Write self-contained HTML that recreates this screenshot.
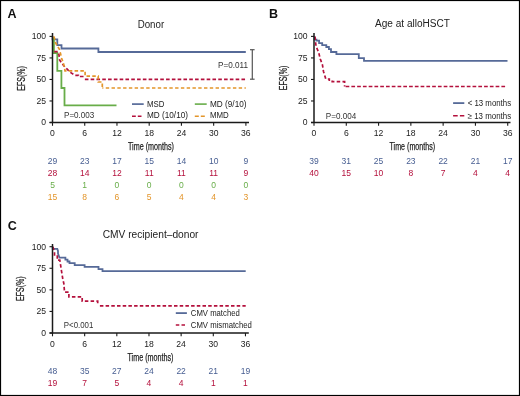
<!DOCTYPE html>
<html><head><meta charset="utf-8"><style>
html,body{margin:0;padding:0;background:#fff;}
body{width:520px;height:396px;overflow:hidden;}
svg{display:block;will-change:transform;}
text{font-family:"Liberation Sans",sans-serif;}
</style></head><body>
<svg width="520" height="396" viewBox="0 0 520 396">
<rect x="0" y="0" width="520" height="396" fill="#fff"/>
<rect x="0.5" y="0.5" width="519" height="395" fill="none" stroke="#000" stroke-width="1.2"/>
<text x="7.6" y="18.0" font-size="12.5" fill="#111" text-anchor="start" font-weight="bold" >A</text>
<text x="150.9" y="27.5" font-size="10" fill="#222" text-anchor="middle" textLength="26.5" lengthAdjust="spacingAndGlyphs" >Donor</text>
<path d="M52.5,36.4 V39.4 H57.3 V45.1 H61.5 V48.5 H98.4 V52 H245.8" fill="none" stroke="#566a98" stroke-width="1.8" stroke-linejoin="miter"/>
<path d="M53.9,37.2 V53 H57.3 V70.8 H61.4 V88 H64.5 V105.4 H116.5" fill="none" stroke="#68ad49" stroke-width="1.8" stroke-linejoin="miter"/>
<path d="M54.2,51.6 H58 L59,55 L59.6,60 L62,63.5 L64.6,66.7 L67.2,69.2 L70.2,72.3 L75.2,75.3 H78.3 V76.5 H82.7 V79.4" fill="none" stroke="#b4103c" stroke-width="1.7" stroke-dasharray="3.5 2.27" stroke-linejoin="miter"/>
<line x1="82.7" y1="79.4" x2="245.8" y2="79.4" stroke="#b4103c" stroke-width="1.7" stroke-dasharray="3.6 2.2" stroke-dashoffset="3.65"/>
<path d="M53.6,36.4 L54.6,38.5 L55.2,42 L57,45.5 L59.3,49 L60.5,53.5 L61.5,58 L63,62 L64.3,66.5 L65,70.8 H85.1 V76.2 H98.2 V82 H102.3 V88" fill="none" stroke="#e3952a" stroke-width="1.7" stroke-dasharray="3.5 2.27" stroke-linejoin="miter"/>
<line x1="102.3" y1="88" x2="245.8" y2="88" stroke="#e3952a" stroke-width="1.7" stroke-dasharray="3.4 2.38" stroke-dashoffset="2.32"/>
<line x1="52.5" y1="33" x2="52.5" y2="123.0" stroke="#1a1a1a" stroke-width="1.5"/>
<line x1="49.5" y1="122.5" x2="249" y2="122.5" stroke="#1a1a1a" stroke-width="1.5"/>
<line x1="49.5" y1="122.5" x2="52.5" y2="122.5" stroke="#1a1a1a" stroke-width="1.1"/>
<text x="46" y="125.4" font-size="8.6" fill="#222" text-anchor="end" >0</text>
<line x1="49.5" y1="100.975" x2="52.5" y2="100.975" stroke="#1a1a1a" stroke-width="1.1"/>
<text x="46" y="103.88" font-size="8.6" fill="#222" text-anchor="end" >25</text>
<line x1="49.5" y1="79.45" x2="52.5" y2="79.45" stroke="#1a1a1a" stroke-width="1.1"/>
<text x="46" y="82.35" font-size="8.6" fill="#222" text-anchor="end" >50</text>
<line x1="49.5" y1="57.925" x2="52.5" y2="57.925" stroke="#1a1a1a" stroke-width="1.1"/>
<text x="46" y="60.82" font-size="8.6" fill="#222" text-anchor="end" >75</text>
<line x1="49.5" y1="36.400000000000006" x2="52.5" y2="36.400000000000006" stroke="#1a1a1a" stroke-width="1.1"/>
<text x="46" y="39.3" font-size="8.6" fill="#222" text-anchor="end" >100</text>
<line x1="52.5" y1="122.5" x2="52.5" y2="125.8" stroke="#1a1a1a" stroke-width="1.1"/>
<text x="52.5" y="136.3" font-size="8.6" fill="#222" text-anchor="middle" >0</text>
<line x1="84.732" y1="122.5" x2="84.732" y2="125.8" stroke="#1a1a1a" stroke-width="1.1"/>
<text x="84.73" y="136.3" font-size="8.6" fill="#222" text-anchor="middle" >6</text>
<line x1="116.964" y1="122.5" x2="116.964" y2="125.8" stroke="#1a1a1a" stroke-width="1.1"/>
<text x="116.96" y="136.3" font-size="8.6" fill="#222" text-anchor="middle" >12</text>
<line x1="149.196" y1="122.5" x2="149.196" y2="125.8" stroke="#1a1a1a" stroke-width="1.1"/>
<text x="149.2" y="136.3" font-size="8.6" fill="#222" text-anchor="middle" >18</text>
<line x1="181.428" y1="122.5" x2="181.428" y2="125.8" stroke="#1a1a1a" stroke-width="1.1"/>
<text x="181.43" y="136.3" font-size="8.6" fill="#222" text-anchor="middle" >24</text>
<line x1="213.66" y1="122.5" x2="213.66" y2="125.8" stroke="#1a1a1a" stroke-width="1.1"/>
<text x="213.66" y="136.3" font-size="8.6" fill="#222" text-anchor="middle" >30</text>
<line x1="245.892" y1="122.5" x2="245.892" y2="125.8" stroke="#1a1a1a" stroke-width="1.1"/>
<text x="245.89" y="136.3" font-size="8.6" fill="#222" text-anchor="middle" >36</text>
<text x="128" y="150.4" font-size="10.6" fill="#222" text-anchor="start" textLength="46" lengthAdjust="spacingAndGlyphs" stroke="#222" stroke-width="0.25">Time (months)</text>
<text transform="translate(24.6,78.4) rotate(-90)" font-size="10" fill="#222" stroke="#222" stroke-width="0.25" text-anchor="middle" textLength="24.6" lengthAdjust="spacingAndGlyphs">EFS(%)</text>
<line x1="132" y1="104.1" x2="143.7" y2="104.1" stroke="#566a98" stroke-width="1.7"/>
<text x="147" y="106.8" font-size="8.6" fill="#222" text-anchor="start" textLength="17.4" lengthAdjust="spacingAndGlyphs" >MSD</text>
<line x1="194.8" y1="104.1" x2="206.7" y2="104.1" stroke="#68ad49" stroke-width="1.6"/>
<text x="210" y="106.8" font-size="8.6" fill="#222" text-anchor="start" textLength="36.5" lengthAdjust="spacingAndGlyphs" >MD (9/10)</text>
<line x1="132" y1="116.2" x2="141.5" y2="116.2" stroke="#b4103c" stroke-width="1.4" stroke-dasharray="3.8 2"/>
<text x="147" y="118.4" font-size="8.6" fill="#222" text-anchor="start" textLength="41" lengthAdjust="spacingAndGlyphs" >MD (10/10)</text>
<line x1="194.8" y1="116.2" x2="206.7" y2="116.2" stroke="#e3952a" stroke-width="1.5" stroke-dasharray="4 2"/>
<text x="210" y="118.4" font-size="8.6" fill="#222" text-anchor="start" textLength="18.8" lengthAdjust="spacingAndGlyphs" >MMD</text>
<text x="64" y="118.2" font-size="8.6" fill="#333" text-anchor="start" textLength="30.3" lengthAdjust="spacingAndGlyphs" >P=0.003</text>
<text x="218" y="67.6" font-size="8.6" fill="#333" text-anchor="start" textLength="30" lengthAdjust="spacingAndGlyphs" >P=0.011</text>
<line x1="252.3" y1="49.7" x2="252.3" y2="79.2" stroke="#555" stroke-width="1.2"/>
<line x1="250" y1="49.7" x2="254.6" y2="49.7" stroke="#555" stroke-width="1.2"/>
<line x1="250" y1="79.2" x2="254.6" y2="79.2" stroke="#555" stroke-width="1.2"/>
<text x="52.5" y="163.8" font-size="8.5" fill="#465d91" text-anchor="middle" >29</text>
<text x="84.73" y="163.8" font-size="8.5" fill="#465d91" text-anchor="middle" >23</text>
<text x="116.96" y="163.8" font-size="8.5" fill="#465d91" text-anchor="middle" >17</text>
<text x="149.2" y="163.8" font-size="8.5" fill="#465d91" text-anchor="middle" >15</text>
<text x="181.43" y="163.8" font-size="8.5" fill="#465d91" text-anchor="middle" >14</text>
<text x="213.66" y="163.8" font-size="8.5" fill="#465d91" text-anchor="middle" >10</text>
<text x="245.89" y="163.8" font-size="8.5" fill="#465d91" text-anchor="middle" >9</text>
<text x="52.5" y="176" font-size="8.5" fill="#b4103c" text-anchor="middle" >28</text>
<text x="84.73" y="176" font-size="8.5" fill="#b4103c" text-anchor="middle" >14</text>
<text x="116.96" y="176" font-size="8.5" fill="#b4103c" text-anchor="middle" >12</text>
<text x="149.2" y="176" font-size="8.5" fill="#b4103c" text-anchor="middle" >11</text>
<text x="181.43" y="176" font-size="8.5" fill="#b4103c" text-anchor="middle" >11</text>
<text x="213.66" y="176" font-size="8.5" fill="#b4103c" text-anchor="middle" >11</text>
<text x="245.89" y="176" font-size="8.5" fill="#b4103c" text-anchor="middle" >9</text>
<text x="52.5" y="187.9" font-size="8.5" fill="#68ad49" text-anchor="middle" >5</text>
<text x="84.73" y="187.9" font-size="8.5" fill="#68ad49" text-anchor="middle" >1</text>
<text x="116.96" y="187.9" font-size="8.5" fill="#68ad49" text-anchor="middle" >0</text>
<text x="149.2" y="187.9" font-size="8.5" fill="#68ad49" text-anchor="middle" >0</text>
<text x="181.43" y="187.9" font-size="8.5" fill="#68ad49" text-anchor="middle" >0</text>
<text x="213.66" y="187.9" font-size="8.5" fill="#68ad49" text-anchor="middle" >0</text>
<text x="245.89" y="187.9" font-size="8.5" fill="#68ad49" text-anchor="middle" >0</text>
<text x="52.5" y="200" font-size="8.5" fill="#e3952a" text-anchor="middle" >15</text>
<text x="84.73" y="200" font-size="8.5" fill="#e3952a" text-anchor="middle" >8</text>
<text x="116.96" y="200" font-size="8.5" fill="#e3952a" text-anchor="middle" >6</text>
<text x="149.2" y="200" font-size="8.5" fill="#e3952a" text-anchor="middle" >5</text>
<text x="181.43" y="200" font-size="8.5" fill="#e3952a" text-anchor="middle" >4</text>
<text x="213.66" y="200" font-size="8.5" fill="#e3952a" text-anchor="middle" >4</text>
<text x="245.89" y="200" font-size="8.5" fill="#e3952a" text-anchor="middle" >3</text>
<text x="268.9" y="18.1" font-size="12.5" fill="#111" text-anchor="start" font-weight="bold" >B</text>
<text x="412.5" y="27.3" font-size="10" fill="#222" text-anchor="middle" textLength="75" lengthAdjust="spacingAndGlyphs" >Age at alloHSCT</text>
<path d="M314.5,36.5 V39.6 H316.5 V40.6 H319.1 V43.1 H322.2 V45.1 H326.3 V47 H328.9 V49.2 H331 V52 H336.4 V54.2 H358.8 V58.2 H364 V60.9 H507.5" fill="none" stroke="#566a98" stroke-width="1.8" stroke-linejoin="miter"/>
<path d="M315,36.5 L316,46.1 L318.6,52.2 L320.3,59 L322.4,64.6 L323.5,71.5 L325.8,79 H329.3 V80.2 H332.2 V81.7 H344.6 V86.5" fill="none" stroke="#b4103c" stroke-width="1.7" stroke-dasharray="3.5 2.27" stroke-linejoin="miter"/>
<line x1="344.6" y1="86.5" x2="507.1" y2="86.5" stroke="#b4103c" stroke-width="1.7" stroke-dasharray="3.7 2.07" stroke-dashoffset="4.77"/>
<line x1="314.0" y1="33" x2="314.0" y2="123.0" stroke="#1a1a1a" stroke-width="1.5"/>
<line x1="311.0" y1="122.5" x2="510.5" y2="122.5" stroke="#1a1a1a" stroke-width="1.5"/>
<line x1="311.0" y1="122.5" x2="314.0" y2="122.5" stroke="#1a1a1a" stroke-width="1.1"/>
<text x="307.5" y="125.4" font-size="8.6" fill="#222" text-anchor="end" >0</text>
<line x1="311.0" y1="100.975" x2="314.0" y2="100.975" stroke="#1a1a1a" stroke-width="1.1"/>
<text x="307.5" y="103.88" font-size="8.6" fill="#222" text-anchor="end" >25</text>
<line x1="311.0" y1="79.45" x2="314.0" y2="79.45" stroke="#1a1a1a" stroke-width="1.1"/>
<text x="307.5" y="82.35" font-size="8.6" fill="#222" text-anchor="end" >50</text>
<line x1="311.0" y1="57.925" x2="314.0" y2="57.925" stroke="#1a1a1a" stroke-width="1.1"/>
<text x="307.5" y="60.82" font-size="8.6" fill="#222" text-anchor="end" >75</text>
<line x1="311.0" y1="36.400000000000006" x2="314.0" y2="36.400000000000006" stroke="#1a1a1a" stroke-width="1.1"/>
<text x="307.5" y="39.3" font-size="8.6" fill="#222" text-anchor="end" >100</text>
<line x1="314.0" y1="122.5" x2="314.0" y2="125.8" stroke="#1a1a1a" stroke-width="1.1"/>
<text x="314.0" y="136.3" font-size="8.6" fill="#222" text-anchor="middle" >0</text>
<line x1="346.286" y1="122.5" x2="346.286" y2="125.8" stroke="#1a1a1a" stroke-width="1.1"/>
<text x="346.29" y="136.3" font-size="8.6" fill="#222" text-anchor="middle" >6</text>
<line x1="378.572" y1="122.5" x2="378.572" y2="125.8" stroke="#1a1a1a" stroke-width="1.1"/>
<text x="378.57" y="136.3" font-size="8.6" fill="#222" text-anchor="middle" >12</text>
<line x1="410.858" y1="122.5" x2="410.858" y2="125.8" stroke="#1a1a1a" stroke-width="1.1"/>
<text x="410.86" y="136.3" font-size="8.6" fill="#222" text-anchor="middle" >18</text>
<line x1="443.144" y1="122.5" x2="443.144" y2="125.8" stroke="#1a1a1a" stroke-width="1.1"/>
<text x="443.14" y="136.3" font-size="8.6" fill="#222" text-anchor="middle" >24</text>
<line x1="475.43" y1="122.5" x2="475.43" y2="125.8" stroke="#1a1a1a" stroke-width="1.1"/>
<text x="475.43" y="136.3" font-size="8.6" fill="#222" text-anchor="middle" >30</text>
<line x1="507.716" y1="122.5" x2="507.716" y2="125.8" stroke="#1a1a1a" stroke-width="1.1"/>
<text x="507.72" y="136.3" font-size="8.6" fill="#222" text-anchor="middle" >36</text>
<text x="389.5" y="150.4" font-size="10.6" fill="#222" text-anchor="start" textLength="45.6" lengthAdjust="spacingAndGlyphs" stroke="#222" stroke-width="0.25">Time (months)</text>
<text transform="translate(286.6,78.0) rotate(-90)" font-size="10" fill="#222" stroke="#222" stroke-width="0.25" text-anchor="middle" textLength="24.6" lengthAdjust="spacingAndGlyphs">EFS(%)</text>
<line x1="453.1" y1="103.1" x2="464.3" y2="103.1" stroke="#566a98" stroke-width="1.8"/>
<text x="467.7" y="105.8" font-size="8.6" fill="#222" text-anchor="start" textLength="43.4" lengthAdjust="spacingAndGlyphs" >&lt; 13 months</text>
<line x1="453.1" y1="115.8" x2="464.3" y2="115.8" stroke="#b4103c" stroke-width="1.5" stroke-dasharray="4.6 2.2"/>
<text x="467.7" y="118.5" font-size="8.6" fill="#222" text-anchor="start" textLength="43.4" lengthAdjust="spacingAndGlyphs" >≥ 13 months</text>
<text x="325.8" y="118.6" font-size="8.6" fill="#333" text-anchor="start" textLength="30.4" lengthAdjust="spacingAndGlyphs" >P=0.004</text>
<text x="314.0" y="163.8" font-size="8.5" fill="#465d91" text-anchor="middle" >39</text>
<text x="346.29" y="163.8" font-size="8.5" fill="#465d91" text-anchor="middle" >31</text>
<text x="378.57" y="163.8" font-size="8.5" fill="#465d91" text-anchor="middle" >25</text>
<text x="410.86" y="163.8" font-size="8.5" fill="#465d91" text-anchor="middle" >23</text>
<text x="443.14" y="163.8" font-size="8.5" fill="#465d91" text-anchor="middle" >22</text>
<text x="475.43" y="163.8" font-size="8.5" fill="#465d91" text-anchor="middle" >21</text>
<text x="507.72" y="163.8" font-size="8.5" fill="#465d91" text-anchor="middle" >17</text>
<text x="314.0" y="175.8" font-size="8.5" fill="#b4103c" text-anchor="middle" >40</text>
<text x="346.29" y="175.8" font-size="8.5" fill="#b4103c" text-anchor="middle" >15</text>
<text x="378.57" y="175.8" font-size="8.5" fill="#b4103c" text-anchor="middle" >10</text>
<text x="410.86" y="175.8" font-size="8.5" fill="#b4103c" text-anchor="middle" >8</text>
<text x="443.14" y="175.8" font-size="8.5" fill="#b4103c" text-anchor="middle" >7</text>
<text x="475.43" y="175.8" font-size="8.5" fill="#b4103c" text-anchor="middle" >4</text>
<text x="507.72" y="175.8" font-size="8.5" fill="#b4103c" text-anchor="middle" >4</text>
<text x="7.8" y="230.0" font-size="12.5" fill="#111" text-anchor="start" font-weight="bold" >C</text>
<text x="150.6" y="238.4" font-size="10" fill="#222" text-anchor="middle" textLength="95.8" lengthAdjust="spacingAndGlyphs" >CMV recipient–donor</text>
<path d="M52.7,246.7 V248.8 H57.3 L58,251 V253.5 L59.5,257.7 H65.4 V259.6 H67.5 V261.5 H69.5 V263.1 H74.7 V265.1 H84.6 V266.9 H98.5 V269.2 H102.5 V271.1 H245.7" fill="none" stroke="#566a98" stroke-width="1.8" stroke-linejoin="miter"/>
<path d="M52.8,246.7 L54.5,252 V256 H57.3 V260.2 H59.8 L60.6,265.2 L61.4,270.3 L62.2,275.3 L62.8,279 L63.9,283.9 L64.5,292.1 H68.9 V296.8 H82.2 V301.2 H97.7 V305.8" fill="none" stroke="#b4103c" stroke-width="1.7" stroke-dasharray="3.5 2.27" stroke-linejoin="miter"/>
<line x1="97.7" y1="305.8" x2="245.7" y2="305.8" stroke="#b4103c" stroke-width="1.7" stroke-dasharray="3.5 2.2" stroke-dashoffset="3.5"/>
<line x1="52.5" y1="244" x2="52.5" y2="333.5" stroke="#1a1a1a" stroke-width="1.5"/>
<line x1="49.5" y1="333.0" x2="248.8" y2="333.0" stroke="#1a1a1a" stroke-width="1.5"/>
<line x1="49.5" y1="333.0" x2="52.5" y2="333.0" stroke="#1a1a1a" stroke-width="1.1"/>
<text x="46" y="335.9" font-size="8.6" fill="#222" text-anchor="end" >0</text>
<line x1="49.5" y1="311.425" x2="52.5" y2="311.425" stroke="#1a1a1a" stroke-width="1.1"/>
<text x="46" y="314.32" font-size="8.6" fill="#222" text-anchor="end" >25</text>
<line x1="49.5" y1="289.85" x2="52.5" y2="289.85" stroke="#1a1a1a" stroke-width="1.1"/>
<text x="46" y="292.75" font-size="8.6" fill="#222" text-anchor="end" >50</text>
<line x1="49.5" y1="268.275" x2="52.5" y2="268.275" stroke="#1a1a1a" stroke-width="1.1"/>
<text x="46" y="271.17" font-size="8.6" fill="#222" text-anchor="end" >75</text>
<line x1="49.5" y1="246.7" x2="52.5" y2="246.7" stroke="#1a1a1a" stroke-width="1.1"/>
<text x="46" y="249.6" font-size="8.6" fill="#222" text-anchor="end" >100</text>
<line x1="52.5" y1="333.0" x2="52.5" y2="336.3" stroke="#1a1a1a" stroke-width="1.1"/>
<text x="52.5" y="347" font-size="8.6" fill="#222" text-anchor="middle" >0</text>
<line x1="84.66" y1="333.0" x2="84.66" y2="336.3" stroke="#1a1a1a" stroke-width="1.1"/>
<text x="84.66" y="347" font-size="8.6" fill="#222" text-anchor="middle" >6</text>
<line x1="116.82000000000001" y1="333.0" x2="116.82000000000001" y2="336.3" stroke="#1a1a1a" stroke-width="1.1"/>
<text x="116.82" y="347" font-size="8.6" fill="#222" text-anchor="middle" >12</text>
<line x1="148.98000000000002" y1="333.0" x2="148.98000000000002" y2="336.3" stroke="#1a1a1a" stroke-width="1.1"/>
<text x="148.98" y="347" font-size="8.6" fill="#222" text-anchor="middle" >18</text>
<line x1="181.14000000000001" y1="333.0" x2="181.14000000000001" y2="336.3" stroke="#1a1a1a" stroke-width="1.1"/>
<text x="181.14" y="347" font-size="8.6" fill="#222" text-anchor="middle" >24</text>
<line x1="213.3" y1="333.0" x2="213.3" y2="336.3" stroke="#1a1a1a" stroke-width="1.1"/>
<text x="213.3" y="347" font-size="8.6" fill="#222" text-anchor="middle" >30</text>
<line x1="245.46" y1="333.0" x2="245.46" y2="336.3" stroke="#1a1a1a" stroke-width="1.1"/>
<text x="245.46" y="347" font-size="8.6" fill="#222" text-anchor="middle" >36</text>
<text x="127.5" y="360.8" font-size="10.6" fill="#222" text-anchor="start" textLength="46" lengthAdjust="spacingAndGlyphs" stroke="#222" stroke-width="0.25">Time (months)</text>
<text transform="translate(24.4,288.7) rotate(-90)" font-size="10" fill="#222" stroke="#222" stroke-width="0.25" text-anchor="middle" textLength="24.6" lengthAdjust="spacingAndGlyphs">EFS(%)</text>
<line x1="175.8" y1="313.1" x2="186.9" y2="313.1" stroke="#566a98" stroke-width="1.8"/>
<text x="190.8" y="315.8" font-size="8.6" fill="#222" text-anchor="start" textLength="49" lengthAdjust="spacingAndGlyphs" >CMV matched</text>
<line x1="175.8" y1="325" x2="186.9" y2="325" stroke="#b4103c" stroke-width="1.5" stroke-dasharray="3.5 2.2"/>
<text x="190.8" y="327.6" font-size="8.6" fill="#222" text-anchor="start" textLength="61.1" lengthAdjust="spacingAndGlyphs" >CMV mismatched</text>
<text x="63.8" y="328.2" font-size="8.6" fill="#333" text-anchor="start" textLength="29.6" lengthAdjust="spacingAndGlyphs" >P&lt;0.001</text>
<text x="52.5" y="374" font-size="8.5" fill="#465d91" text-anchor="middle" >48</text>
<text x="84.66" y="374" font-size="8.5" fill="#465d91" text-anchor="middle" >35</text>
<text x="116.82" y="374" font-size="8.5" fill="#465d91" text-anchor="middle" >27</text>
<text x="148.98" y="374" font-size="8.5" fill="#465d91" text-anchor="middle" >24</text>
<text x="181.14" y="374" font-size="8.5" fill="#465d91" text-anchor="middle" >22</text>
<text x="213.3" y="374" font-size="8.5" fill="#465d91" text-anchor="middle" >21</text>
<text x="245.46" y="374" font-size="8.5" fill="#465d91" text-anchor="middle" >19</text>
<text x="52.5" y="386.2" font-size="8.5" fill="#b4103c" text-anchor="middle" >19</text>
<text x="84.66" y="386.2" font-size="8.5" fill="#b4103c" text-anchor="middle" >7</text>
<text x="116.82" y="386.2" font-size="8.5" fill="#b4103c" text-anchor="middle" >5</text>
<text x="148.98" y="386.2" font-size="8.5" fill="#b4103c" text-anchor="middle" >4</text>
<text x="181.14" y="386.2" font-size="8.5" fill="#b4103c" text-anchor="middle" >4</text>
<text x="213.3" y="386.2" font-size="8.5" fill="#b4103c" text-anchor="middle" >1</text>
<text x="245.46" y="386.2" font-size="8.5" fill="#b4103c" text-anchor="middle" >1</text>
</svg>
</body></html>
